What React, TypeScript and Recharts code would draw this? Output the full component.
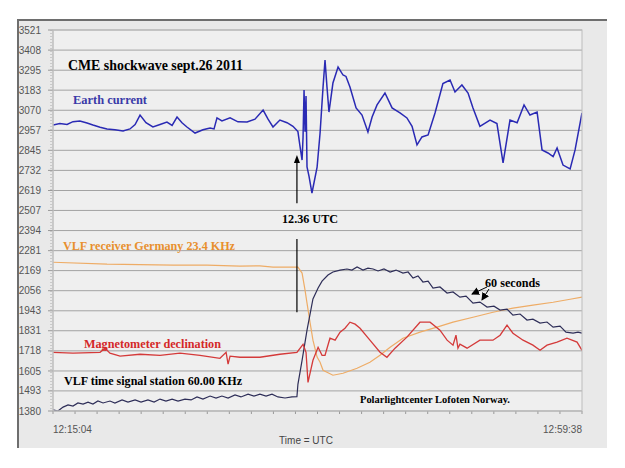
import React from 'react';
import { LineChart, Line, XAxis, YAxis, CartesianGrid, ReferenceLine, ReferenceDot } from 'recharts';

// ---- axis data ----
const yTicks = [1380, 1493, 1605, 1718, 1831, 1943, 2056, 2169, 2281, 2394, 2507, 2619, 2732, 2845, 2957, 3070, 3183, 3295, 3408, 3521];
const timeStartLabel = '12:15:04';
const timeEndLabel = '12:59:38';
const timeSpanSec = 2674; // seconds from 12:15:04 to 12:59:38
const xTickCount = 24;
const eventTimeSec = 1233; // 12:36 UTC marker

// ---- series: [seconds since 12:15:04, value] ----
const earthCurrent: [number, number][] = [
  [0, 2987], [35, 2995], [71, 2990], [101, 3006], [136, 3010], [172, 2998], [202, 2987], [238, 2975],
  [273, 2965], [313, 2960], [354, 2954], [389, 2965], [415, 2990], [440, 3043], [470, 3000], [505, 2976],
  [541, 2990], [576, 3004], [602, 2985], [627, 3032], [652, 3000], [677, 2976], [718, 2942], [758, 2960],
  [794, 2970], [814, 2965], [829, 3027], [854, 3010], [895, 3027], [935, 3005], [981, 3004], [1021, 3020],
  [1062, 3071], [1087, 3020], [1112, 2976], [1147, 3015], [1183, 3000], [1213, 2980], [1238, 2950],
  [1249, 2864], [1259, 2790], [1264, 2920], [1269, 3184], [1274, 2950], [1279, 3150], [1284, 2751],
  [1294, 2700], [1309, 2605], [1335, 2751], [1350, 2942], [1365, 3200], [1375, 3352], [1385, 3200],
  [1395, 3060], [1415, 3223], [1441, 3313], [1466, 3268], [1481, 3260], [1501, 3201], [1532, 3083],
  [1562, 3043], [1592, 2948], [1613, 3032], [1638, 3100], [1678, 3167], [1714, 3083], [1754, 3055],
  [1789, 3027], [1815, 2980], [1840, 2875], [1865, 2920], [1896, 2931], [1931, 3055], [1971, 3220],
  [2007, 3240], [2032, 3173], [2067, 3212], [2098, 3167], [2123, 3083], [2158, 2980], [2209, 3015],
  [2244, 2995], [2275, 2774], [2310, 3015], [2346, 3000], [2381, 3100], [2411, 3043], [2447, 3060],
  [2472, 2847], [2502, 2830], [2528, 2810], [2548, 2858], [2578, 2762], [2614, 2740], [2639, 2847],
  [2674, 3055],
];

const vlfTimeSignal: [number, number][] = [
  [0, 1386], [25, 1380], [51, 1402], [76, 1414], [101, 1408], [126, 1425], [152, 1419], [177, 1430],
  [202, 1419], [227, 1436], [253, 1425], [288, 1436], [313, 1425], [349, 1442], [379, 1430], [415, 1442],
  [445, 1430], [480, 1442], [511, 1430], [541, 1447], [571, 1436], [602, 1447], [632, 1436], [667, 1447],
  [698, 1442], [728, 1459], [758, 1447], [794, 1464], [824, 1453], [854, 1464], [885, 1453], [920, 1470],
  [950, 1459], [986, 1475], [1016, 1464], [1046, 1475], [1077, 1464], [1107, 1475], [1137, 1459],
  [1173, 1453], [1208, 1459], [1233, 1460], [1238, 1530], [1259, 1665], [1284, 1835], [1314, 2010],
  [1340, 2071], [1360, 2110], [1390, 2144], [1415, 2161], [1451, 2172], [1486, 2178], [1511, 2172],
  [1537, 2189], [1567, 2172], [1592, 2183], [1618, 2178], [1643, 2167], [1673, 2178], [1704, 2161],
  [1734, 2172], [1769, 2155], [1795, 2161], [1820, 2127], [1845, 2139], [1870, 2105], [1896, 2110],
  [1921, 2071], [1956, 2077], [1992, 2043], [2022, 2049], [2057, 2020], [2088, 2026], [2123, 1986],
  [2158, 1992], [2194, 1964], [2229, 1969], [2260, 1947], [2295, 1953], [2325, 1919], [2361, 1925],
  [2396, 1891], [2426, 1896], [2462, 1874], [2497, 1880], [2528, 1851], [2563, 1857], [2593, 1823],
  [2629, 1818], [2654, 1823], [2674, 1818],
];

const vlfGermany: [number, number][] = [
  [0, 2216], [273, 2205], [440, 2203], [607, 2200], [778, 2200], [945, 2194], [1046, 2196], [1112, 2188],
  [1238, 2188], [1259, 2155], [1274, 2059], [1284, 1986], [1299, 1879], [1314, 1778], [1335, 1683],
  [1350, 1654], [1365, 1609], [1385, 1598], [1415, 1581], [1466, 1592], [1537, 1620], [1602, 1654],
  [1653, 1693], [1704, 1738], [1769, 1789], [1855, 1823], [1941, 1851], [2022, 1879], [2123, 1907],
  [2224, 1935], [2325, 1958], [2426, 1975], [2528, 1991], [2614, 2008], [2674, 2020],
];

const magnetometer: [number, number][] = [
  [0, 1710], [101, 1705], [238, 1710], [263, 1733], [288, 1705], [339, 1688], [440, 1699], [541, 1693],
  [642, 1705], [743, 1693], [844, 1676], [875, 1710], [885, 1643], [895, 1688], [945, 1682], [1046, 1682],
  [1147, 1699], [1233, 1710], [1264, 1755], [1279, 1710], [1289, 1541], [1314, 1665], [1340, 1738],
  [1360, 1693], [1375, 1693], [1400, 1789], [1426, 1778], [1451, 1823], [1476, 1845], [1501, 1879],
  [1527, 1868], [1552, 1845], [1602, 1778], [1653, 1710], [1688, 1682], [1729, 1733], [1789, 1795],
  [1855, 1879], [1906, 1879], [1956, 1834], [1992, 1778], [2022, 1750], [2037, 1806], [2047, 1733],
  [2057, 1755], [2093, 1733], [2158, 1778], [2224, 1778], [2260, 1806], [2295, 1862], [2325, 1817],
  [2376, 1778], [2426, 1750], [2462, 1721], [2497, 1750], [2548, 1767], [2598, 1789], [2649, 1767],
  [2674, 1721],
];

const toRows = (pairs: [number, number][]) => pairs.map(([t, v]) => ({ t, v }));

const W = 625;
const H = 468;
const SERIF = '"Liberation Serif", "Times New Roman", serif';
const SANS = '"Liberation Sans", Arial, sans-serif';

const xTicks = Array.from({ length: xTickCount + 1 }, (_, i) => (i * timeSpanSec) / xTickCount);

const XTick = (props: any) => {
  const { x, y, payload } = props;
  const v = payload.value;
  let label = '';
  let anchor: 'start' | 'end' = 'start';
  if (Math.abs(v) < 1e-6) {
    label = timeStartLabel;
    anchor = 'start';
  } else if (Math.abs(v - timeSpanSec) < 1e-6) {
    label = timeEndLabel;
    anchor = 'end';
  }
  if (!label) return <g />;
  return (
    <text x={x} y={y + 13} textAnchor={anchor} dominantBaseline="central" fontSize={10} fill="#555" fontFamily={SANS}>
      {label}
    </text>
  );
};

const ArrowUpHead = (props: any) => {
  const { cx, cy } = props;
  return <path d={`M${cx},${cy} L${cx - 3},${cy + 8} L${cx + 3},${cy + 8} Z`} fill="#000" />;
};

export default function App() {
  return (
    <div style={{ position: 'absolute', left: 0, top: 0, width: W, height: H, background: '#fff' }}>
      <div
        style={{
          position: 'absolute',
          left: 17,
          top: 19,
          width: 590,
          height: 429,
          background: '#e9e9e9',
          borderTop: '2px solid #6e6e6e',
          borderLeft: '2px solid #6e6e6e',
          boxSizing: 'border-box',
        }}
      />
      <div style={{ position: 'absolute', left: 0, top: 0 }}>
        <LineChart width={W} height={H} margin={{ top: 30, right: 43, bottom: 27, left: 17 }}>
          <CartesianGrid vertical={false} stroke="#a3a3a3" fill="#efefef" fillOpacity={1} />
          <XAxis
            dataKey="t"
            type="number"
            domain={[0, timeSpanSec]}
            ticks={xTicks}
            interval={0}
            height={30}
            tickSize={3}
            tick={<XTick />}
            axisLine={{ stroke: '#bdbdbd' }}
            tickLine={{ stroke: '#999' }}
            allowDataOverflow
          />
          <YAxis
            type="number"
            domain={[1380, 3521]}
            ticks={yTicks}
            interval={0}
            width={36}
            tickSize={5}
            tickMargin={7}
            tick={{ fontSize: 10, fill: '#555', fontFamily: SANS }}
            axisLine={{ stroke: '#bdbdbd' }}
            tickLine={{ stroke: '#999' }}
            allowDataOverflow
          />
          <Line data={toRows(vlfGermany)} dataKey="v" type="linear" stroke="#eeac66" strokeWidth={1.2} dot={false} isAnimationActive={false} />
          <Line data={toRows(vlfTimeSignal)} dataKey="v" type="linear" stroke="#2e2e58" strokeWidth={1.2} dot={false} isAnimationActive={false} />
          <Line data={toRows(magnetometer)} dataKey="v" type="linear" stroke="#d43a3a" strokeWidth={1.3} dot={false} isAnimationActive={false} />
          <Line data={toRows(earthCurrent)} dataKey="v" type="linear" stroke="#2a2ab4" strokeWidth={1.5} dot={false} isAnimationActive={false} />
          <ReferenceLine segment={[{ x: eventTimeSec, y: 2548 }, { x: eventTimeSec, y: 2790 }]} stroke="#000" strokeWidth={1.2} />
          <ReferenceDot x={eventTimeSec} y={2818} r={4} shape={<ArrowUpHead />} />
          <ReferenceLine segment={[{ x: eventTimeSec, y: 2346 }, { x: eventTimeSec, y: 1935 }]} stroke="#000" strokeWidth={1.2} />
        </LineChart>
      </div>
      <svg width={W} height={H} style={{ position: 'absolute', left: 0, top: 0, pointerEvents: 'none' }}>
        <defs>
          <marker id="ah" markerWidth="8" markerHeight="8" refX="7" refY="4" orient="auto" markerUnits="userSpaceOnUse">
            <path d="M0,0 L8,4 L0,8 Z" fill="#000" />
          </marker>
        </defs>
        <line x1={51} y1={30} x2={51} y2={411} stroke="#aaa" strokeDasharray="1 2" />
        <rect x={53} y={30} width={529} height={381} fill="none" stroke="#bdbdbd" />
        <text x={68} y={65} fontFamily={SERIF} fontWeight="bold" fontSize={14} fill="#000" dominantBaseline="central" textLength={175} lengthAdjust="spacingAndGlyphs">CME shockwave sept.26 2011</text>
        <text x={73} y={99} fontFamily={SERIF} fontWeight="bold" fontSize={13} fill="#3a3aa8" dominantBaseline="central" textLength={74} lengthAdjust="spacingAndGlyphs">Earth current</text>
        <text x={282} y={218} fontFamily={SERIF} fontWeight="bold" fontSize={13} fill="#000" dominantBaseline="central" textLength={56} lengthAdjust="spacingAndGlyphs">12.36 UTC</text>
        <text x={63} y={245} fontFamily={SERIF} fontWeight="bold" fontSize={13} fill="#e8902e" dominantBaseline="central" textLength={172} lengthAdjust="spacingAndGlyphs">VLF receiver Germany 23.4 KHz</text>
        <text x={84} y={343} fontFamily={SERIF} fontWeight="bold" fontSize={13} fill="#d42828" dominantBaseline="central" textLength={137} lengthAdjust="spacingAndGlyphs">Magnetometer declination</text>
        <text x={64} y={380} fontFamily={SERIF} fontWeight="bold" fontSize={13} fill="#000" dominantBaseline="central" textLength={178} lengthAdjust="spacingAndGlyphs">VLF time signal station 60.00 KHz</text>
        <text x={485} y={282} fontFamily={SERIF} fontWeight="bold" fontSize={13} fill="#000" dominantBaseline="central" textLength={55} lengthAdjust="spacingAndGlyphs">60 seconds</text>
        <text x={360} y={399} fontFamily={SERIF} fontWeight="bold" fontSize={11} fill="#000" dominantBaseline="central" textLength={150} lengthAdjust="spacingAndGlyphs">Polarlightcenter Lofoten Norway.</text>
        <text x={306} y={440} fontFamily={SANS} fontSize={10} fill="#444" textAnchor="middle" dominantBaseline="central">Time = UTC</text>
        <line x1={487} y1={287} x2={472} y2={294} stroke="#000" strokeWidth={1} markerEnd="url(#ah)" />
        <line x1={489} y1={289} x2={482} y2={300} stroke="#000" strokeWidth={1} markerEnd="url(#ah)" />
      </svg>
    </div>
  );
}
